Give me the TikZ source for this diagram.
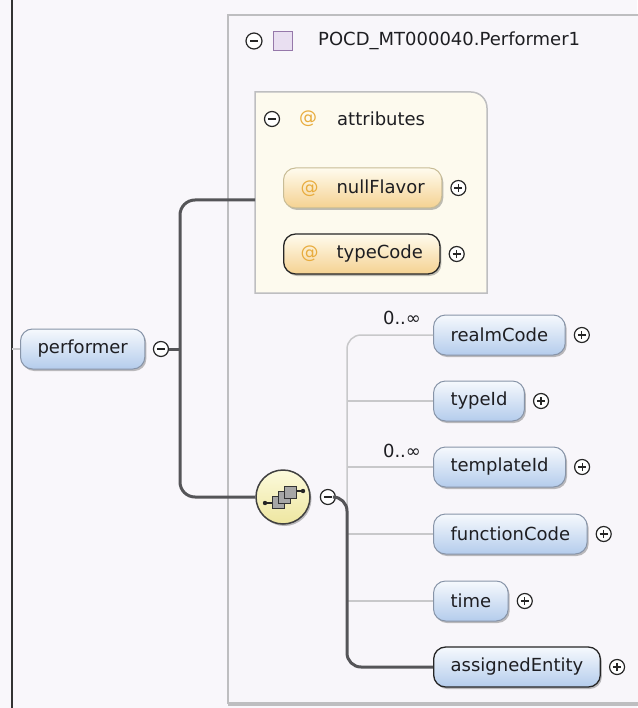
\documentclass[tikz,border=0pt]{standalone}
\usepackage{fontspec}
\setmainfont{DejaVu Sans}
\usetikzlibrary{positioning, shadows}

\definecolor{canvas}{RGB}{249,247,251}
\definecolor{boxbg}{RGB}{248,246,250}
\definecolor{boxline}{RGB}{190,190,192}
\definecolor{attrbg}{RGB}{253,250,238}
\definecolor{elemtop}{RGB}{246,249,253}
\definecolor{elembot}{RGB}{180,204,236}
\definecolor{elemline}{RGB}{135,148,168}
\definecolor{attrtop}{RGB}{255,251,238}
\definecolor{attrbot}{RGB}{245,210,145}
\definecolor{attrline}{RGB}{200,188,150}
\definecolor{atcol}{RGB}{232,172,62}
\definecolor{txt}{RGB}{30,30,34}
\definecolor{wire}{RGB}{85,85,88}
\definecolor{thinwire}{RGB}{200,200,202}
\definecolor{typefill}{RGB}{233,223,241}
\definecolor{typeline}{RGB}{150,120,170}
\definecolor{seqtop}{RGB}{252,250,220}
\definecolor{seqbot}{RGB}{238,230,160}

\begin{document}
\begin{tikzpicture}[
    x=1pt, y=-1pt,
    font=\fontsize{18}{21}\selectfont,
    elem/.style={
        rectangle,
        rounded corners=12pt,
        draw=elemline,
        line width=1pt,
        top color=elemtop,
        bottom color=elembot,
        minimum height=40pt,
        inner xsep=17pt,
        inner ysep=0pt,
        text=txt,
        anchor=west,
        drop shadow={shadow xshift=1.5pt, shadow yshift=-2pt, fill=black, opacity=0.25}
    },
    reqelem/.style={elem, draw=black!85, line width=1.3pt},
    attr/.style={elem, draw=attrline, top color=attrtop, bottom color=attrbot},
    reqattr/.style={attr, draw=black!85, line width=1.3pt},
    btn/.style={
        circle,
        draw=black!85,
        fill=white,
        line width=1.2pt,
        minimum size=15pt,
        inner sep=0pt
    },
    minusbtn/.style={btn, path picture={
        \draw[line width=1.2pt] ([xshift=-4pt]path picture bounding box.center) -- ([xshift=4pt]path picture bounding box.center);}},
    plusbtn/.style={btn, path picture={
        \draw[line width=1.2pt] ([xshift=-4pt]path picture bounding box.center) -- ([xshift=4pt]path picture bounding box.center)
            ([yshift=-4pt]path picture bounding box.center) -- ([yshift=4pt]path picture bounding box.center);}},
    typebox/.style={rectangle, draw=typeline, fill=typefill, line width=1pt, minimum size=19pt, inner sep=0pt},
    seqnode/.style={
        circle,
        draw=black!75,
        line width=1.5pt,
        top color=seqtop,
        bottom color=seqbot,
        minimum size=54pt,
        inner sep=0pt,
        drop shadow={shadow xshift=1.5pt, shadow yshift=-2pt, fill=black, opacity=0.25}
    },
    label/.style={anchor=west, inner sep=0pt, text=txt},
    mult/.style={inner sep=0pt, text=txt},
    atsign/.style={inner sep=0pt, text=atcol},
    mainline/.style={draw=wire, line width=3pt},
    thinline/.style={draw=thinwire, line width=1.5pt}
]

\useasboundingbox[fill=canvas] (0,0) rectangle (637,708);
\coordinate (leftedge) at (12,0);
\draw[line width=1.5pt, black!80] (leftedge) -- (12,708);

% container of the complex type
\draw[line width=2pt, draw=boxline, fill=boxbg] (645,15) -- (228,15) -- (228,703) -- (645,703);
\draw[line width=4pt, draw=boxline] (228,704) -- (645,704);

\node[minusbtn, minimum size=16pt] (hdrmin) at (254,41) {};
\node[typebox, right=10pt of hdrmin] (hdrsq) {};
\node[label] (hdr) at (318,41) {POCD\_MT000040.Performer1};
\shade[left color=boxbg, middle color=black!30, right color=boxbg] (237,69) rectangle (530,71);

% attributes group
\draw[line width=1.5pt, draw=boxline, fill=attrbg]
    (255,293) -- (255,92) -- (471,92) arc[start angle=-90, end angle=0, radius=16] -- (487,293) -- cycle;
\coordinate (attrin) at (255,200);
\node[minusbtn] (attrmin) at (272,119) {};
\node[atsign] (attrat) at (308,119) {@};
\node[label] (attrhdr) at (337,119) {attributes};
\shade[left color=attrbg, middle color=black!25, right color=attrbg] (262,144) rectangle (432,146);

\node[attr] (nullfl) at (283,188) {{\color{atcol}@}\hspace{18pt}nullFlavor};
\node[plusbtn, right=8pt of nullfl] (nullflplus) {};
\node[reqattr] (typecd) at (283,254) {{\color{atcol}@}\hspace{18pt}typeCode};
\node[plusbtn, right=8pt of typecd] (typecdplus) {};

% root element
\node[elem] (perf) at (20,349) {performer};
\node[minusbtn, right=7.5pt of perf] (perfmin) {};
\draw[thinline] (perf.west -| leftedge) -- (perf.west);

% sequence
\node[seqnode] (seq) at (283,497) {};
\begin{scope}[shift={(seq.center)}]
    \draw[line width=1.3pt, black!85] (-18,6) -- (-11,6) (13,-6) -- (20,-6);
    \fill[black!85] (-18,6) circle (2.2) (20,-6) circle (2.2);
    \draw[line width=1pt, draw=black!80, fill=black!35] (-11,-1) rectangle (1,11);
    \draw[line width=1pt, draw=black!80, fill=black!35] (-5,-6) rectangle (7,6);
    \draw[line width=1pt, draw=black!80, fill=black!35] (1,-11) rectangle (13,1);
\end{scope}
\node[minusbtn, right=9pt of seq] (seqmin) {};

\coordinate (perfbus) at (180,350);
\draw[mainline, rounded corners=15pt] (attrin) -- (attrin -| perfbus) -- (seq.west -| perfbus) -- (seq.west);
\draw[mainline] (perfmin.east) -- (perfmin.east -| perfbus);

% children of the sequence
\node[elem] (realm) at (433,335) {realmCode};
\node[plusbtn, right=8pt of realm] (realmplus) {};
\node[elem] (typeid) at (433,401) {typeId};
\node[plusbtn, right=8pt of typeid] (typeidplus) {};
\node[elem] (templ) at (433,467) {templateId};
\node[plusbtn, right=8pt of templ] (templplus) {};
\node[elem] (func) at (433,534) {functionCode};
\node[plusbtn, right=8pt of func] (funcplus) {};
\node[elem] (time) at (433,601) {time};
\node[plusbtn, right=8pt of time] (timeplus) {};
\node[reqelem] (assigned) at (433,667) {assignedEntity};
\node[plusbtn, right=8pt of assigned] (assignedplus) {};

\node[mult] (realmmult) at (402,318) {0..∞};
\node[mult] (templmult) at (402,451) {0..∞};

\coordinate (seqbus) at (347,335);
\draw[thinline, rounded corners=14pt] (realm.west) -- (seqbus) -- (347,640);
\draw[thinline] (typeid.west -| seqbus) -- (typeid.west);
\draw[thinline] (templ.west -| seqbus) -- (templ.west);
\draw[thinline] (func.west -| seqbus) -- (func.west);
\draw[thinline] (time.west -| seqbus) -- (time.west);
\draw[mainline, rounded corners=14pt] (seqmin.east) -- (seqmin.east -| seqbus) -- (assigned.west -| seqbus) -- (assigned.west);

\end{tikzpicture}
\end{document}
